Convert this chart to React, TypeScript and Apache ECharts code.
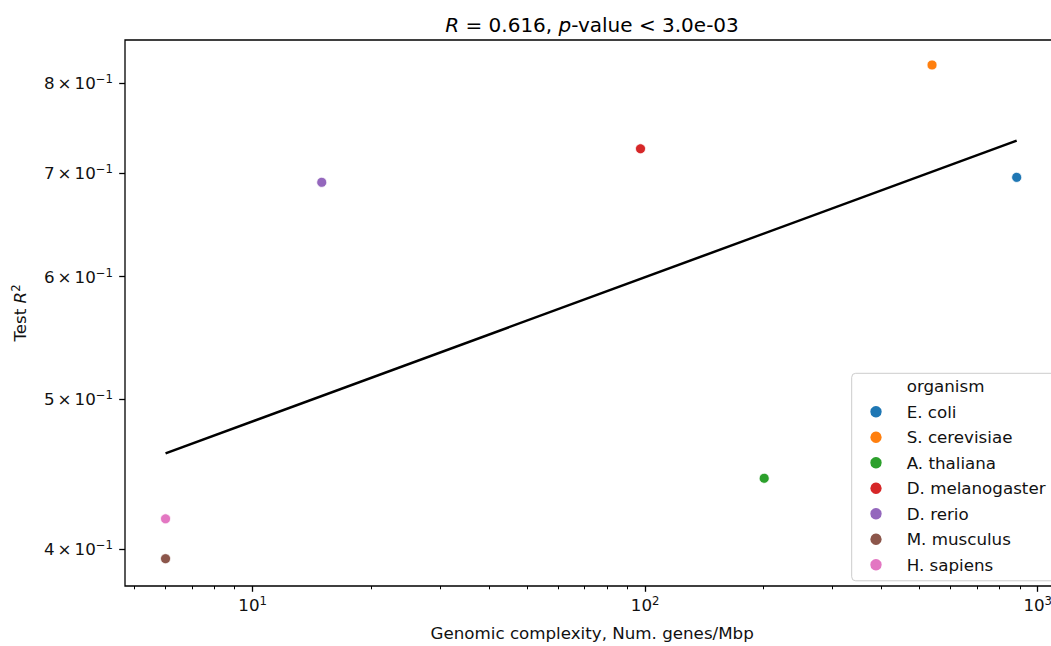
import React, { useEffect, useRef } from 'react';
import * as echarts from 'echarts';

const FONT = 'DejaVu Sans';

const organisms = ['E. coli', 'S. cerevisiae', 'A. thaliana', 'D. melanogaster', 'D. rerio', 'M. musculus', 'H. sapiens'];
const complexity = [884, 538, 201, 97.3, 15.0, 6.0, 6.0];
const testR2 = [0.6955, 0.822, 0.4446, 0.7257, 0.6904, 0.3945, 0.4186];
const palette = ['#1f77b4', '#ff7f0e', '#2ca02c', '#d62728', '#9467bd', '#8c564b', '#e377c2'];

const fitX = [6.0, 884];
const fitY = [0.4614, 0.7345];

const xMajorTicks = [10, 100, 1000];
const xMinorTicks = [5, 6, 7, 8, 9, 20, 30, 40, 50, 60, 70, 80, 90, 200, 300, 400, 500, 600, 700, 800, 900];
const yTicks = [0.4, 0.5, 0.6, 0.7, 0.8];
const xLimits = [4.73, 1135];
const yLimits = [0.3788, 0.8531];

const lg = (v: number) => Math.log10(v);

export default function App() {
  const ref = useRef<HTMLDivElement>(null);
  useEffect(() => {
    const chart = echarts.init(ref.current!, null, { renderer: 'svg' });
    const textColor = '#111';
    const supRich = {
      b: { fontFamily: FONT, fontSize: 16.7, color: textColor, lineHeight: 20 },
      x: { fontFamily: FONT, fontSize: 16.7, color: textColor, lineHeight: 20, padding: [0, 3, 0, 3] },
      s: { fontFamily: FONT, fontSize: 11.7, color: textColor, lineHeight: 14, verticalAlign: 'top' },
    };
    const scatterSeries = organisms.map((name, i) => ({
      type: 'scatter',
      name,
      xAxisIndex: 0,
      yAxisIndex: 0,
      data: [[lg(complexity[i]), lg(testR2[i])]],
      symbol: 'circle',
      symbolSize: 10,
      itemStyle: { color: palette[i], borderColor: '#fff', borderWidth: 0.8, opacity: 1 },
      z: 3,
    }));
    chart.setOption({
      animation: false,
      backgroundColor: '#fff',
      grid: {
        left: 125,
        top: 40,
        width: 934.3,
        height: 547.5,
        show: true,
        borderColor: '#000',
        borderWidth: 1.3,
        backgroundColor: 'transparent',
      },
      graphic: [
        {
          type: 'text',
          x: 592,
          y: 24.5,
          style: {
            text: '{i|R} = 0.616, {i|p}-value < 3.0e-03',
            rich: { i: { fontFamily: FONT, fontSize: 20, fontStyle: 'italic', fill: '#000' } },
            fontFamily: FONT,
            fontSize: 20,
            fill: '#000',
            align: 'center',
            verticalAlign: 'middle',
          },
        },
      ],
      legend: {
        orient: 'vertical',
        left: 851.7,
        top: 373.3,
        padding: [4.5, 30, 7.5, 16.6],
        itemWidth: 13.4,
        itemHeight: 13.4,
        itemGap: 8.5,
        selectedMode: false,
        backgroundColor: 'rgba(255,255,255,0.8)',
        borderColor: '#cccccc',
        borderWidth: 1,
        borderRadius: 4,
        data: ['organism', ...organisms],
        formatter: (name: string) => `{t|${name}}`,
        textStyle: {
          fontFamily: FONT,
          fontSize: 16.7,
          color: textColor,
          rich: { t: { fontFamily: FONT, fontSize: 16.7, color: textColor, padding: [0, 0, 0, 19] } },
        },
      },
      xAxis: [
        {
          type: 'value',
          min: lg(xLimits[0]),
          max: lg(xLimits[1]),
          position: 'bottom',
          name: 'Genomic complexity, Num. genes/Mbp',
          nameLocation: 'middle',
          nameGap: 38,
          nameTextStyle: { fontFamily: FONT, fontSize: 16.7, color: textColor },
          axisLine: { show: false },
          splitLine: { show: false },
          axisTick: {
            show: true,
            inside: false,
            length: 5.8,
            customValues: xMajorTicks.map(lg),
            lineStyle: { color: '#000', width: 1.3 },
          },
          axisLabel: {
            show: true,
            margin: 9,
            customValues: xMajorTicks.map(lg),
            formatter: (v: number) => `{b|10}{s|${Math.round(v)}}`,
            rich: supRich,
          },
        },
        {
          type: 'value',
          min: lg(xLimits[0]),
          max: lg(xLimits[1]),
          position: 'bottom',
          axisLine: { show: false },
          splitLine: { show: false },
          axisLabel: { show: false },
          axisTick: {
            show: true,
            inside: false,
            length: 3.3,
            customValues: xMinorTicks.map(lg),
            lineStyle: { color: '#000', width: 1 },
          },
        },
      ],
      yAxis: [
        {
          type: 'value',
          min: lg(yLimits[0]),
          max: lg(yLimits[1]),
          position: 'left',
          name: '{n|Test }{i|R}{s|2}',
          nameLocation: 'middle',
          nameRotate: 90,
          nameGap: 95,
          nameTextStyle: {
            fontFamily: FONT,
            fontSize: 16.7,
            color: textColor,
            rich: {
              n: { fontFamily: FONT, fontSize: 16.7, color: textColor, lineHeight: 20 },
              i: { fontFamily: FONT, fontSize: 16.7, color: textColor, fontStyle: 'italic', lineHeight: 20 },
              s: { fontFamily: FONT, fontSize: 11.7, color: textColor, lineHeight: 14, verticalAlign: 'top' },
            },
          },
          axisLine: { show: false },
          splitLine: { show: false },
          axisTick: {
            show: true,
            inside: false,
            length: 5.8,
            customValues: yTicks.map(lg),
            lineStyle: { color: '#000', width: 1.3 },
          },
          axisLabel: {
            show: true,
            margin: 12,
            customValues: yTicks.map(lg),
            formatter: (v: number) => `{b|${Math.round(Math.pow(10, v) * 10)}}{x|×}{b|10}{s|−1}`,
            rich: supRich,
          },
        },
      ],
      series: [
        {
          type: 'scatter',
          name: 'organism',
          data: [],
          itemStyle: { color: 'rgba(0,0,0,0)' },
        },
        ...scatterSeries,
        {
          type: 'line',
          name: 'fit',
          xAxisIndex: 0,
          yAxisIndex: 0,
          data: fitX.map((x, i) => [lg(x), lg(fitY[i])]),
          showSymbol: false,
          symbol: 'none',
          lineStyle: { color: '#000', width: 2.5 },
          z: 2,
        },
      ],
    });
    return () => chart.dispose();
  }, []);
  return (
    <div style={{ position: 'fixed', left: 0, top: 0, width: 1051, height: 646, overflow: 'hidden', background: '#fff' }}>
      <div ref={ref} style={{ position: 'absolute', left: 0, top: 0, width: 1090, height: 646 }} />
    </div>
  );
}
